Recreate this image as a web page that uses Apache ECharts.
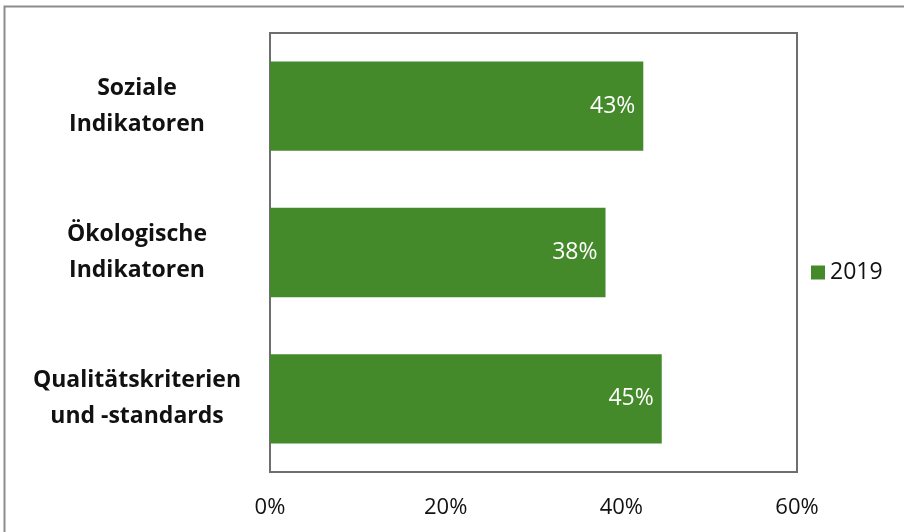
<!DOCTYPE html>
<html>
<head>
<meta charset="utf-8">
<script src="https://cdn.jsdelivr.net/npm/echarts@6/dist/echarts.min.js"></script>
<style>
  html, body { margin: 0; padding: 0; background: #fff; }
  #chart { width: 904px; height: 532px; }
</style>
</head>
<body>
<div id="chart"></div>
<script>
// Kategorien von oben nach unten
const categories = ['Soziale\nIndikatoren', 'Ökologische\nIndikatoren', 'Qualitätskriterien\nund -standards']
const values2019 = [42.5, 38.2, 44.6]
const xTicks = [0, 20, 40, 60]

const green = '#448a2b'

const chart = echarts.init(document.getElementById('chart'))

const option = {
  animation: false,
  textStyle: { fontFamily: 'Open Sans' },
  graphic: [{
    type: 'rect',
    shape: { x: 4.5, y: 6.5, width: 920, height: 540 },
    style: { fill: 'none', stroke: '#8c8c8c', lineWidth: 2 },
    silent: true
  }],
  legend: {
    data: ['2019'],
    orient: 'vertical',
    left: 806,
    top: 256,
    itemWidth: 14,
    itemHeight: 14,
    itemGap: 6,
    icon: 'rect',
    textStyle: { fontSize: 23, color: '#111', fontFamily: 'Open Sans' }
  },
  grid: {
    left: 270,
    right: 107,
    top: 33,
    bottom: 60,
    show: true,
    borderColor: '#6e6e6e',
    borderWidth: 2,
    backgroundColor: 'transparent'
  },
  xAxis: {
    type: 'value',
    min: xTicks[0],
    max: xTicks[xTicks.length - 1],
    interval: 20,
    axisLine: { show: false },
    axisTick: { show: false },
    splitLine: { show: false },
    axisLabel: {
      formatter: v => v + '%',
      fontSize: 22,
      color: '#111',
      margin: 25,
      fontFamily: 'Open Sans'
    }
  },
  yAxis: {
    type: 'category',
    data: categories,
    inverse: true,
    axisLine: { show: false },
    axisTick: { show: false },
    axisLabel: {
      fontSize: 23,
      fontWeight: 'bold',
      color: '#111',
      align: 'center',
      margin: 133,
      lineHeight: 36,
      padding: [6, 0, 0, 0],
      fontFamily: 'Open Sans'
    }
  },
  series: [{
    name: '2019',
    type: 'bar',
    data: values2019,
    barCategoryGap: '39%',
    itemStyle: { color: green },
    label: {
      show: true,
      position: 'insideRight',
      distance: 8,
      color: '#fff',
      fontSize: 23,
      fontFamily: 'Open Sans',
      formatter: p => Math.round(p.value) + '%'
    }
  }]
}

chart.setOption(option)
</script>
</body>
</html>
